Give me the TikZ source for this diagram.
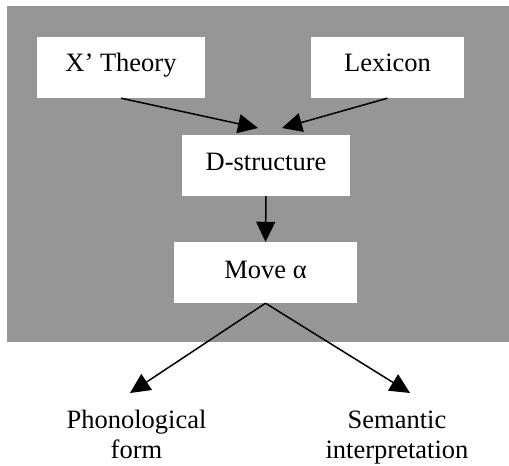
\documentclass[tikz,border=0pt]{standalone}
\usepackage{fontspec}
\setmainfont{Liberation Serif}
\usetikzlibrary{arrows.meta}
\definecolor{panelgray}{RGB}{150,150,150}
\begin{document}
\begin{tikzpicture}[x=1pt,y=-1pt,
  every node/.style={font=\fontsize{26.5}{30}\selectfont},
  whitebox/.style={fill=white, inner xsep=0pt, inner ysep=0pt, anchor=base},
  flow/.style={line width=1.5pt, -{Triangle[length=20pt,width=19pt]}}]
\useasboundingbox (0,0) rectangle (509,466);
% grey panel behind the derivation
\fill[panelgray] (7,6) rectangle (509,342);

% boxes
\node[whitebox, minimum width=168pt, text height=34pt, text depth=27pt] (xbar) at (121,71) {X’ Theory};
\node[whitebox, minimum width=153pt, text height=34pt, text depth=27pt] (lex) at (387.5,71) {Lexicon};
\node[whitebox, minimum width=168pt, text height=35pt, text depth=26pt] (ds) at (266,170) {D-structure};
\node[whitebox, minimum width=183pt, text height=36pt, text depth=25pt] (mv) at (265.5,278) {Move α};

% interface levels (base anchor sits on the last line)
\node[align=center, anchor=base, inner sep=0pt] (pf) at (136.5,458) {Phonological\\form};
\node[align=center, anchor=base, inner sep=0pt] (lf) at (397,458) {Semantic\\interpretation};

% arrow tips
\coordinate (dsL) at (258,128);
\coordinate (dsR) at (282,128);
\coordinate (pfTip) at (130,393);
\coordinate (lfTip) at (410,393);

\draw[flow] (xbar.south) -- (dsL);
\draw[flow] (lex.south) -- (dsR);
\draw[flow] (ds.south) -- (mv.north);
\draw[flow] (mv.south) -- (pfTip);
\draw[flow] (mv.south) -- (lfTip);
\end{tikzpicture}
\end{document}
